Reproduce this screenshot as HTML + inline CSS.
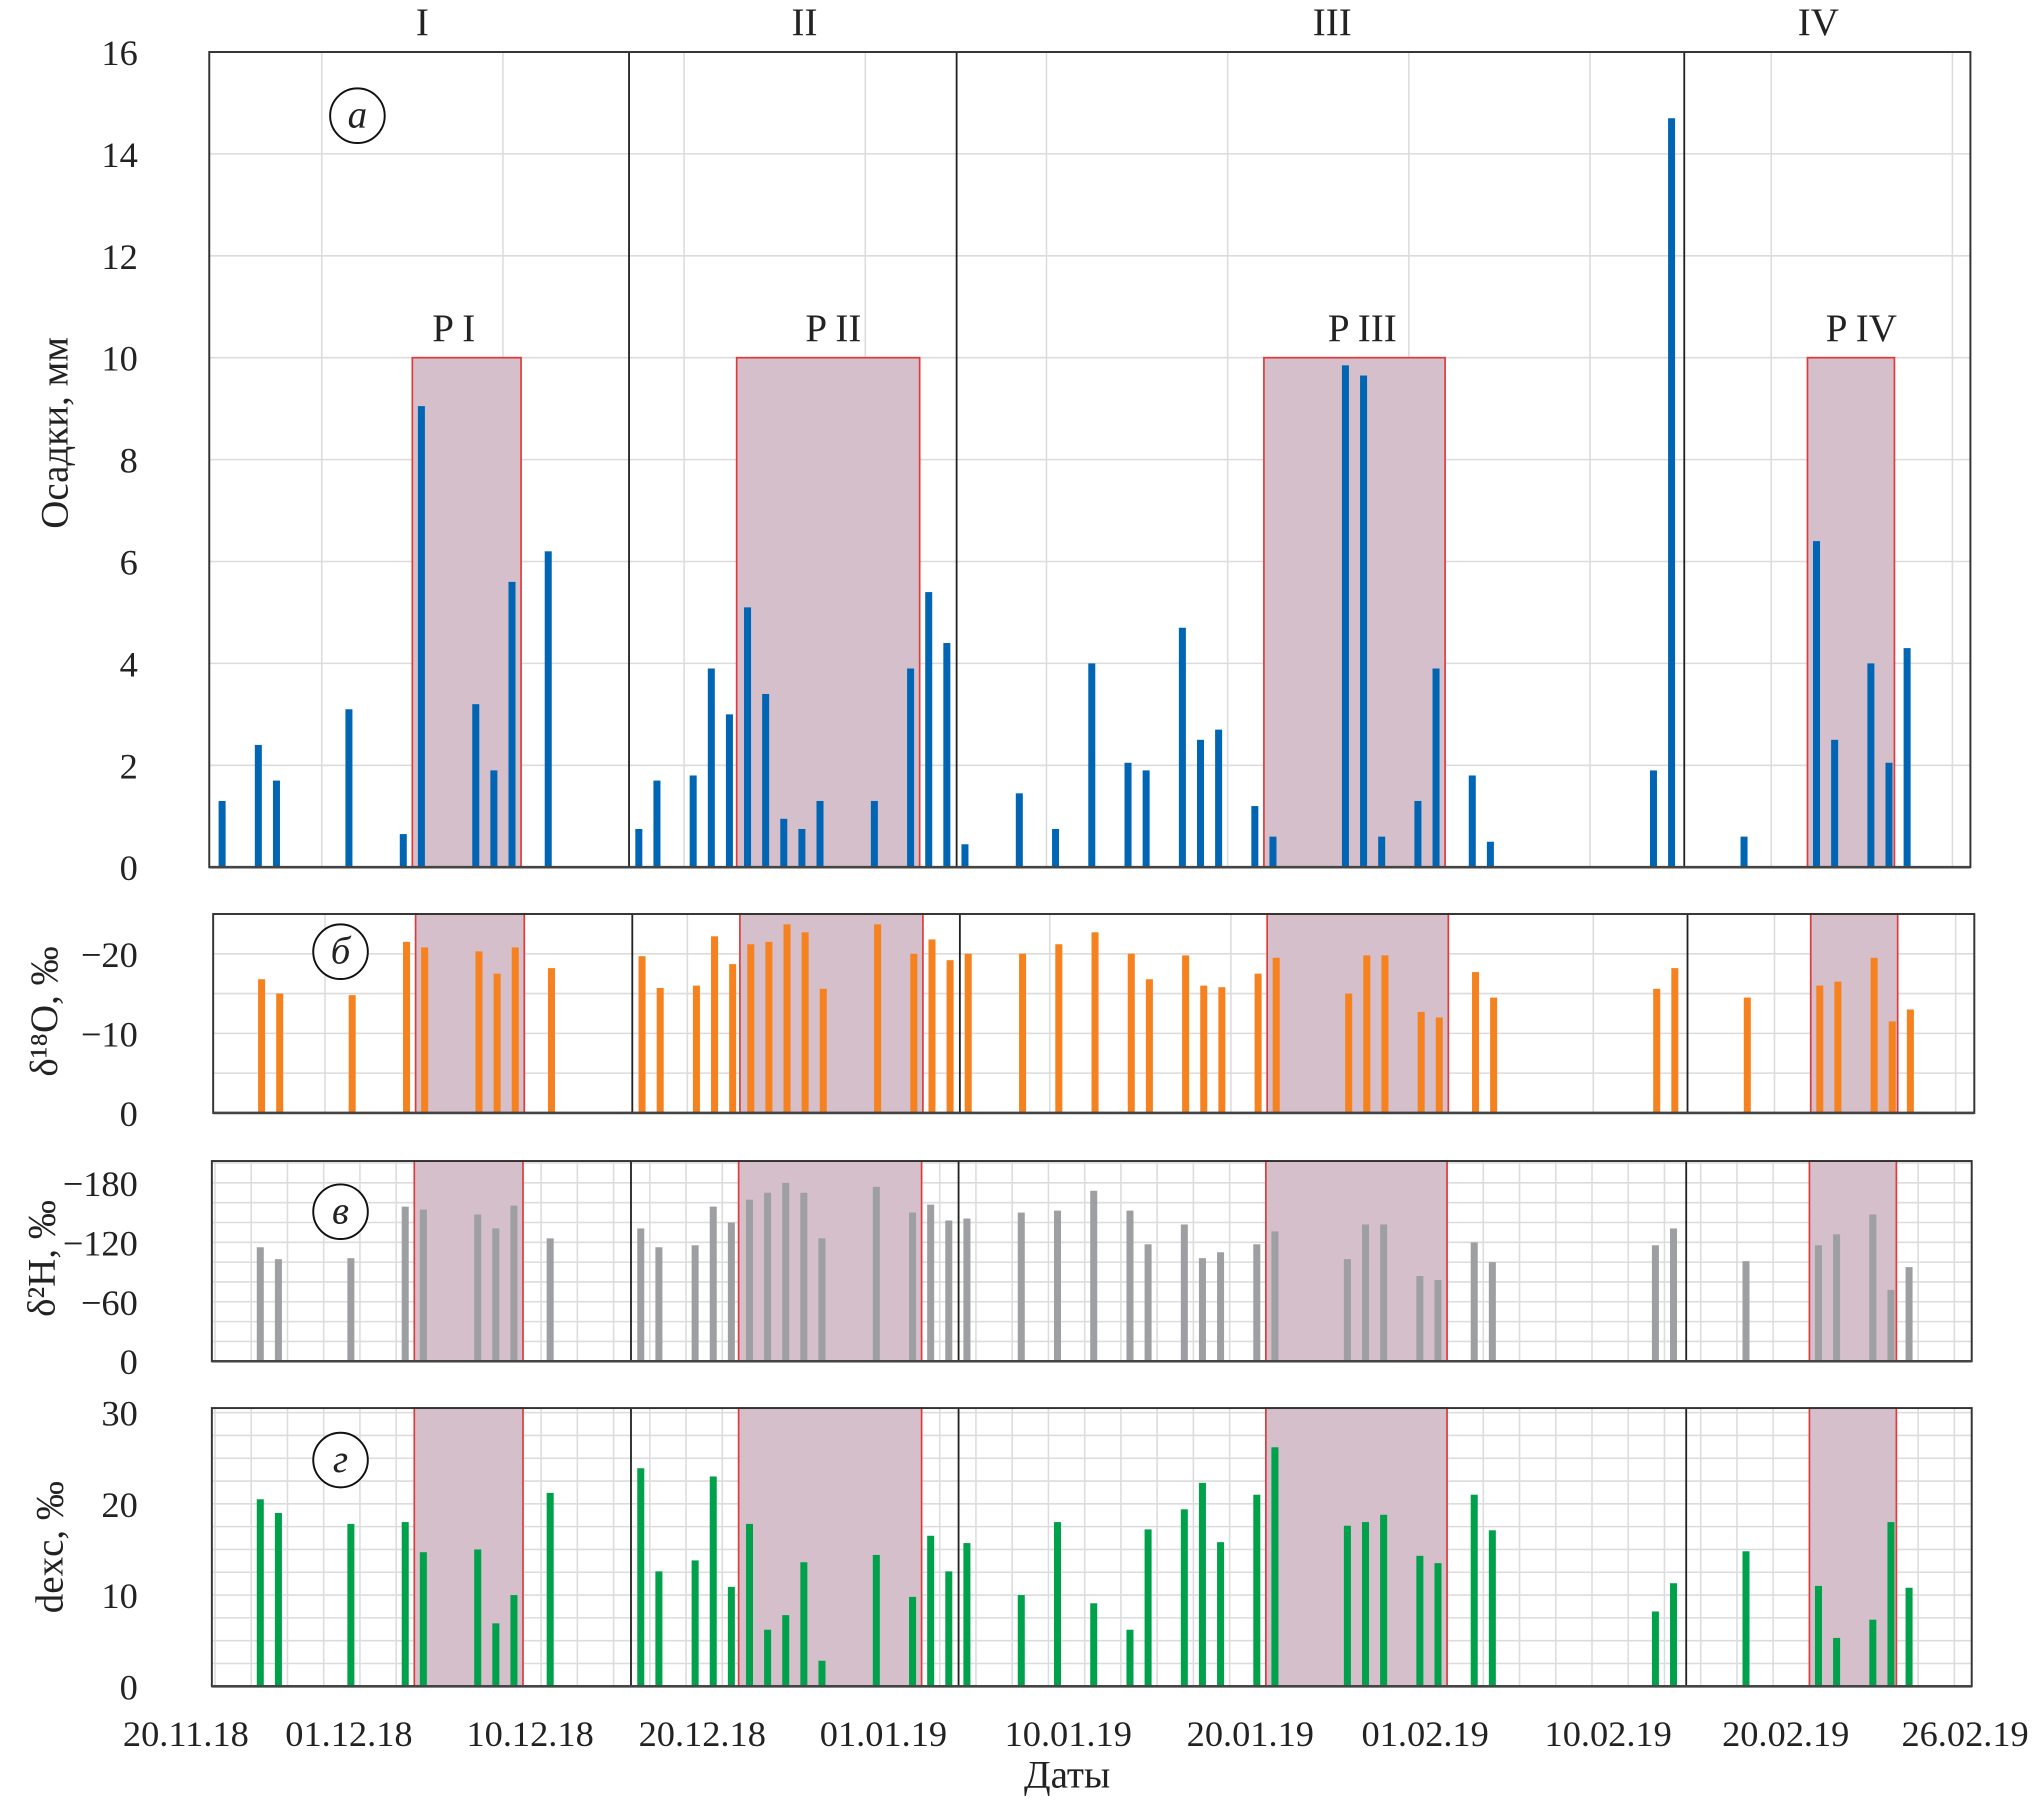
<!DOCTYPE html>
<html><head><meta charset="utf-8"><style>
html,body{margin:0;padding:0;background:#fff}
svg{display:block}
text{font-family:"Liberation Serif",serif;fill:#222}
</style></head><body>
<svg id="chart" width="2038" height="1802" viewBox="0 0 1568 1386" preserveAspectRatio="none" xmlns="http://www.w3.org/2000/svg"></svg>
<script>
// ---- data (slot index = day position along axis) ----
const slots = [2,4,5,9,12,13,16,17,18,20,25,26,28,29,30,31,32,33,34,35,38,40,41,42,43,46,48,50,52,53,55,56,57,59,60,64,65,66,68,69,71,72,81,82,86,90,91,93,94,95];
const precip = [1.3,2.4,1.7,3.1,0.65,9.05,3.2,1.9,5.6,6.2,0.75,1.7,1.8,3.9,3.0,5.1,3.4,0.95,0.75,1.3,1.3,3.9,5.4,4.4,0.45,1.45,0.75,4.0,2.05,1.9,4.7,2.5,2.7,1.2,0.6,9.85,9.65,0.6,1.3,3.9,1.8,0.5,1.9,14.7,0.6,6.4,2.5,4.0,2.05,4.3];
const d18O = [null,16.8,15,14.8,21.5,20.8,20.3,17.5,20.8,18.2,19.7,15.7,16,22.2,18.7,21.2,21.5,23.7,22.7,15.6,23.7,20,21.8,19.2,20,20,21.2,22.7,20,16.8,19.8,16,15.8,17.5,19.5,15,19.8,19.8,12.7,12,17.7,14.5,15.6,18.2,14.5,16,16.5,19.5,11.5,13];
const d2H = [null,115,103,104,156,153,148,134,157,124,134,115,117,156,140,163,170,180,170,124,176,150,158,142,144,150,152,172,152,118,138,104,110,118,131,103,138,138,86,82,120,100,117,134,101,117,128,148,72,95];
const dexc = [null,20.5,19,17.8,18,14.7,15,6.9,10,21.2,23.9,12.6,13.8,23,10.9,17.8,6.2,7.8,13.6,2.8,14.4,9.8,16.5,12.6,15.7,10,18,9.1,6.2,17.2,19.4,22.3,15.8,21,26.2,17.6,18,18.8,14.3,13.5,21,17.1,8.2,11.3,14.8,11,5.3,7.3,18,10.8];
const dateLabels = ["20.11.18","01.12.18","10.12.18","20.12.18","01.01.19","10.01.19","20.01.19","01.02.19","10.02.19","20.02.19","26.02.19"];
const dateSlots = [0,9,19,28.5,38.5,48.7,58.75,68.4,78.5,88.3,98.2];
const periodNames = ["I","II","III","IV"];
const periodBounds = [0,24.46,42.54,82.7,98];
const regionNames = ["P I","P II","P III","P IV"];
const regionStart = [12.5,30.4,59.5,89.5];
const regionEnd = [18.5,40.5,69.5,94.3];
const precipTicks = [0,2,4,6,8,10,12,14,16];
const d18OTicks = [0,10,20];
const d18OTickLabels = ["0","−10","−20"];
const d2HTicks = [0,60,120,180];
const d2HTickLabels = ["0","−60","−120","−180"];
const dexcTicks = [0,10,20,30];

const NS="http://www.w3.org/2000/svg";
const svg=document.getElementById('chart');
function el(tag,attrs,parent){const e=document.createElementNS(NS,tag);for(const k in attrs)e.setAttribute(k,attrs[k]);(parent||svg).appendChild(e);return e;}
const X0=143, DX=13.94;
function xs(s,off){return X0+DX*s+(off||0);}
const regionLabelShift=[-10,4,6,8];

const panels=[
 {name:'precip',left:161,right:1516,top:40,bottom:667,max:16,vals:precip,color:'#0066b3',off:0,ticks:precipTicks,labels:precipTicks.map(String),hgrid:2,vgrid:10,vgStart:7.5,regionTop:10,letter:'a',lx:275,ly:89,title:'Осадки, мм',ty:333,tx:42},
 {name:'d18o',left:164,right:1519,top:703,bottom:856,max:25,vals:d18O,color:'#f5821f',off:2.5,ticks:d18OTicks,labels:d18OTickLabels,hgrid:5,vgrid:10,vgStart:7.5,regionTop:25,letter:'б',lx:262,ly:732,title:'δ¹⁸O, ‰',ty:778,tx:34},
 {name:'d2h',left:163,right:1517,top:893,bottom:1047,max:202,vals:d2H,color:'#9d9fa2',off:1.5,ticks:d2HTicks,labels:d2HTickLabels,hgrid:20,vgrid:2,vgStart:1.5,regionTop:202,letter:'в',lx:262,ly:932,title:'δ²H, ‰',ty:968,tx:32},
 {name:'dexc',left:163,right:1517,top:1083,bottom:1297,max:30.5,vals:dexc,color:'#00a14b',off:1.5,ticks:dexcTicks,labels:dexcTicks.map(String),hgrid:2.5,vgrid:2,vgStart:1.5,regionTop:30.5,letter:'г',lx:262,ly:1123,title:'dexc, ‰',ty:1190,tx:38}
];

panels.forEach(p=>{
  const g=el('g',{});
  
  
  const ys=v=>p.bottom-(p.bottom-p.top)*v/p.max;
  for(let v=p.hgrid;v<p.max;v+=p.hgrid){el('line',{x1:p.left,x2:p.right,y1:ys(v),y2:ys(v),stroke:'#dcdcdc','stroke-width':1.2},g);}
  for(let s=p.vgStart;xs(s,p.off)<p.right;s+=p.vgrid){const x=xs(s,p.off);if(x>p.left)el('line',{x1:x,x2:x,y1:p.top,y2:p.bottom,stroke:'#dcdcdc','stroke-width':1.2},g);}
  regionStart.forEach((rs,i)=>{
    const x1=xs(rs,p.off),x2=xs(regionEnd[i],p.off),yt=ys(p.regionTop);
    const r=el('rect',{x:x1,y:yt,width:x2-x1,height:p.bottom-yt,fill:'#d5bfcb',stroke:'#e03a3a','stroke-width':1.3},g);
    
    
    if(p.name==='precip'){const t=el('text',{x:(x1+x2)/2+regionLabelShift[i],y:yt-13,'font-size':30,'text-anchor':'middle'},g);t.textContent=regionNames[i];
      
      }
  });
  slots.forEach((s,i)=>{const v=p.vals[i];if(v==null)return;const x=xs(s,p.off);
    const b=el('rect',{x:x-2.7,y:ys(v),width:5.4,height:p.bottom-ys(v),fill:p.color},g);
    
    });
  periodBounds.slice(1,4).forEach(pb=>{const x=xs(pb,p.off);el('line',{x1:x,x2:x,y1:p.top,y2:p.bottom,stroke:'#222','stroke-width':1.4},g);});
  el('rect',{x:p.left,y:p.top,width:p.right-p.left,height:p.bottom-p.top,fill:'none',stroke:'#333','stroke-width':1.5},g);
  el('line',{x1:p.left,x2:p.right,y1:p.bottom,y2:p.bottom,stroke:'#444','stroke-width':2},g);
  p.ticks.forEach((v,i)=>{const t=el('text',{x:106,y:ys(v)+10,'font-size':28,'text-anchor':'end'},g);t.textContent=p.labels[i];
    
    });
  el('ellipse',{cx:p.lx,cy:p.ly,rx:21,ry:21,fill:'#fff',stroke:'#111','stroke-width':1.5},g);
  const lt=el('text',{x:p.lx,y:p.ly+9,'font-size':30,'font-style':'italic','text-anchor':'middle'},g);lt.textContent=p.letter;
  
  
  const tt=el('text',{x:p.tx,y:p.ty,'font-size':30,'text-anchor':'middle',transform:`rotate(-90 ${p.tx} ${p.ty})`,dy:10},g);tt.textContent=p.title;
  
  
});
periodNames.forEach((n,i)=>{
  const t=el('text',{x:[325,619,1025,1399][i],y:27,'font-size':30,'text-anchor':'middle'});t.textContent=n;
  
  });
dateLabels.forEach((d,i)=>{const t=el('text',{x:xs(dateSlots[i]),y:1343,'font-size':28,'text-anchor':'middle'});t.textContent=d;
  
  });
const xt=el('text',{x:821,y:1375,'font-size':30,'text-anchor':'middle'});xt.textContent='Даты';


</script>
</body></html>
